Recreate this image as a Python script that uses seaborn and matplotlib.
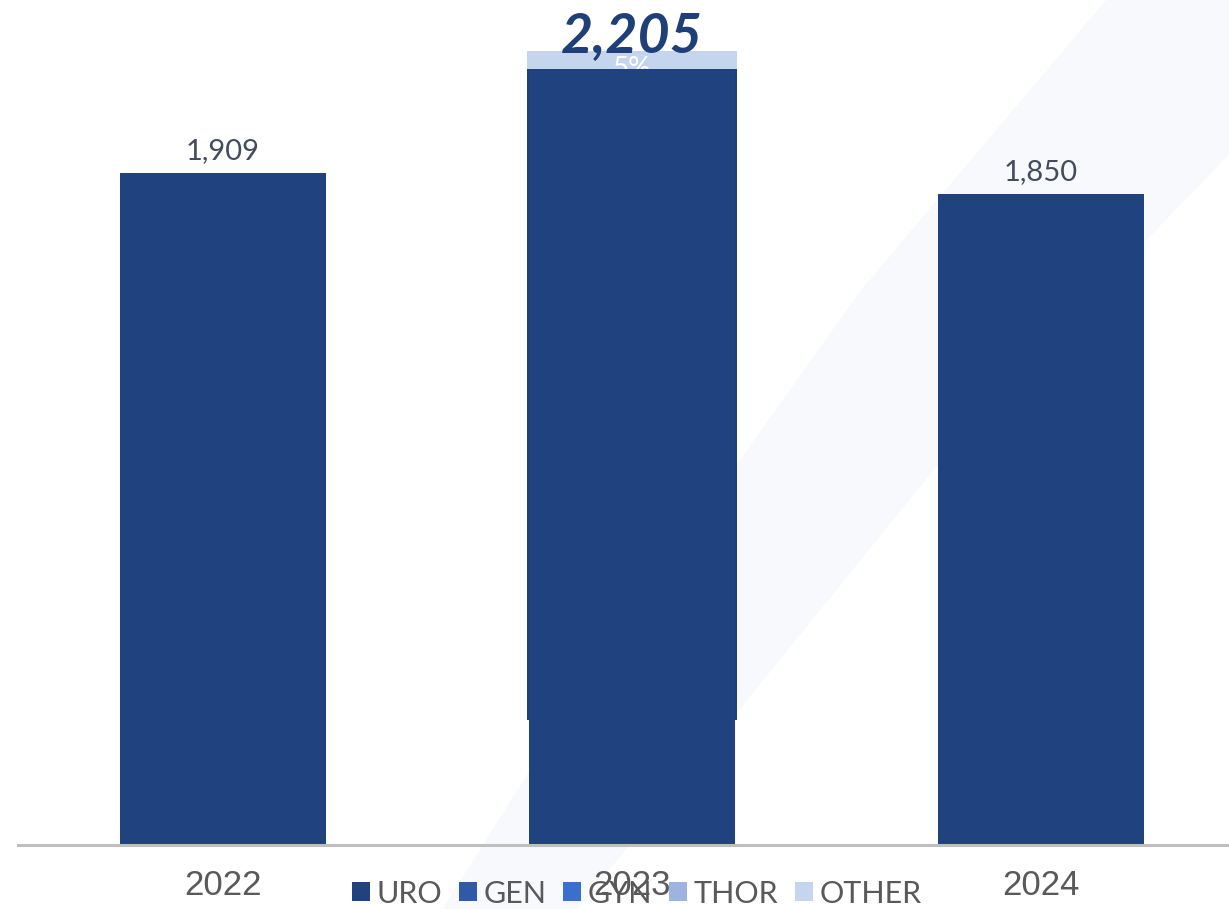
import matplotlib
matplotlib.use("Agg")
import matplotlib.pyplot as plt
import seaborn as sns
import pandas as pd
from matplotlib.patches import Patch, Polygon

# ---- data ----
years = ["2022", "2023", "2024"]
totals = [1909, 2205, 1850]
total_labels = ["1,909", "2,205", "1,850"]
overlay_top_2023 = 2256          # light "OTHER" strip visible above the 2023 bar
overlay_bottom_2023 = 355        # lower edge of the pasted 2023 overlay
overlay_label = "5%"
legend_names = ["URO", "GEN", "GYN", "THOR", "OTHER"]
legend_colors = ["#20427f", "#2f5aa6", "#3b6fce", "#9cb4df", "#c6d5ee"]

BAR = "#20427f"
LABEL = "#434c5c"
TICK = "#595959"

sns.set_theme(style="white")
plt.rcParams["font.family"] = ["Lato", "DejaVu Sans"]

fig = plt.figure(figsize=(12.29, 9.09), dpi=100)
# faint diagonal background band (behind everything)
band = Polygon([[0.36, 0.0], [0.47, 0.0], [0.62, 0.25], [0.80, 0.55], [1.0, 0.83],
                [1.0, 1.0], [0.90, 1.0], [0.70, 0.68], [0.50, 0.30]],
               closed=True, transform=fig.transFigure, facecolor="#f8f9fc",
               edgecolor="none", zorder=-5)
fig.patches.append(band)

ax = fig.add_axes([0.0146, 0.0704, 0.9854, 0.9296])
ax.set_zorder(1)
ax.patch.set_alpha(0)

df = pd.DataFrame({"year": years, "total": totals})

# pasted overlay behind 2023 bar: light strip on top, dark body below
ax.bar(1, overlay_top_2023 - totals[1], bottom=totals[1], width=0.515,
       color="#c6d5ee", linewidth=0, zorder=1)
ax.bar(1, totals[1] - overlay_bottom_2023, bottom=overlay_bottom_2023, width=0.515,
       color="#1e3f7b", linewidth=0, zorder=1)
ax.text(1, 2241, overlay_label, ha="center", va="top", color="white",
        fontsize=20, zorder=1.5)

sns.barplot(data=df, x="year", y="total", color=BAR, saturation=1,
            width=0.504, linewidth=0, ax=ax, zorder=2)

for i, (v, lab) in enumerate(zip(totals, total_labels)):
    if i == 1:
        ax.text(i, 2252, lab, ha="center", va="baseline",
                color="#1f3f78", fontsize=40, fontweight="bold",
                fontstyle="italic", zorder=3)
    else:
        ax.text(i, v + 25, lab, ha="center", va="bottom", color=LABEL,
                fontsize=21, zorder=3)

ax.set_xlim(-0.501, 2.46)
ax.set_ylim(0, 2400)
ax.set_xlabel("")
ax.set_ylabel("")
ax.set_yticks([])
ax.tick_params(axis="x", length=0, pad=17, labelsize=25, labelcolor=TICK)
for t in ax.get_xticklabels():
    t.set_fontfamily(["Liberation Sans", "DejaVu Sans"])
for s in ["top", "left", "right"]:
    ax.spines[s].set_visible(False)
ax.spines["bottom"].set_color("#bfbfbf")
ax.spines["bottom"].set_linewidth(2.2)

handles = [Patch(facecolor=c, edgecolor="none") for c in legend_colors]
leg = fig.legend(handles, legend_names, loc="center", bbox_to_anchor=(0.518, 0.017),
                 ncol=5, frameon=False, fontsize=22, labelcolor=TICK,
                 handlelength=0.6, handleheight=0.6, handletextpad=0.2,
                 columnspacing=0.55, borderpad=0)
leg.set_zorder(5)

fig.savefig("out.png", dpi=100)
